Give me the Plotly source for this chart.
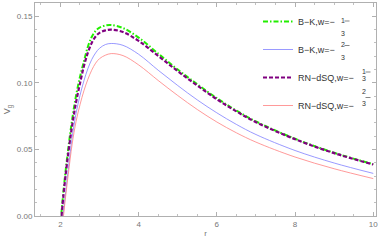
import plotly.graph_objects as go

# ---- data ----
r = [2.0, 2.1, 2.2, 2.3, 2.4, 2.5, 2.6, 2.7, 2.8, 2.9, 3.0, 3.15, 3.3,
     3.6, 4.0, 4.5, 5.0, 5.5, 6.0, 6.5, 7.0, 8.0, 9.0, 10.0]

bk_13 = [-0.0062, 0.025, 0.0505, 0.0725, 0.0905, 0.1045, 0.116, 0.127, 0.1345, 0.139, 0.1415, 0.1431, 0.1434,
         0.1412, 0.1340, 0.1220, 0.1100, 0.0990, 0.0885, 0.0792, 0.0710, 0.0580, 0.0475, 0.0389]
bk_23 = [-0.020, 0.009, 0.035, 0.059, 0.077, 0.0905, 0.1015, 0.1105, 0.1175, 0.1225, 0.1260, 0.1288, 0.1296,
         0.1282, 0.1215, 0.1095, 0.0980, 0.0872, 0.0775, 0.0688, 0.0612, 0.0492, 0.0398, 0.0320]
rn_13 = [-0.009, 0.022, 0.047, 0.068, 0.0855, 0.0995, 0.1125, 0.1225, 0.1300, 0.1348, 0.1376, 0.1394, 0.1400,
         0.1382, 0.1315, 0.1203, 0.1088, 0.0980, 0.0877, 0.0786, 0.0705, 0.0577, 0.0472, 0.0387]
rn_23 = [-0.024, 0.006, 0.031, 0.054, 0.071, 0.0835, 0.094, 0.1025, 0.1095, 0.1148, 0.1182, 0.1208, 0.1220,
         0.1205, 0.1135, 0.1018, 0.0905, 0.0800, 0.0706, 0.0625, 0.0555, 0.0443, 0.0355, 0.0281]

names = ["B\u2212K,w=\u2212", "B\u2212K,w=\u2212", "RN\u2212dSQ,w=\u2212", "RN\u2212dSQ,w=\u2212"]
numerators = ["1", "2", "1", "2"]
denominator = "3"

x_ticks = [2, 4, 6, 8, 10]
y_ticks = [0.00, 0.05, 0.10, 0.15]

# ---- figure ----
W, H = 382, 241
ml, mr, mt, mb = 35, 6, 3, 25
pw, ph = W - ml - mr, H - mt - mb

fig = go.Figure()
styles = [
    dict(color="#22ee00", width=2, dash="5px,2px,1.5px,2px"),
    dict(color="#8080ff", width=0.8),
    dict(color="#800080", width=2.2, dash="4px,2px"),
    dict(color="#ff8080", width=0.8),
]
for i, (ys, nm, st) in enumerate(zip([bk_13, bk_23, rn_13, rn_23], names, styles)):
    fig.add_trace(go.Scatter(x=r, y=ys, mode="lines", name=nm,
                             line=dict(shape="spline", smoothing=1.0, **st),
                             legendgroup=f"g{i}"))

FONT = "Liberation Sans"
axis_common = dict(showline=True, linecolor="#b0b0b0", linewidth=1, mirror="allticks",
                   ticks="inside", ticklen=4, tickcolor="#b0b0b0", showgrid=False,
                   zeroline=False, tickfont=dict(size=8, color="#777777", family=FONT))

fig.update_xaxes(range=[1.35, 10.07], tickvals=x_ticks, ticktext=[str(t) for t in x_ticks],
                 minor=dict(dtick=0.5, tick0=0, ticks="inside", ticklen=2, tickcolor="#c0c0c0"),
                 title=dict(text="r", font=dict(size=8, color="#777777", family=FONT),
                            standoff=2),
                 **axis_common)
fig.update_yaxes(range=[0, 0.16], tickvals=y_ticks, ticktext=[f"{t:.2f}" for t in y_ticks],
                 minor=dict(dtick=0.01, tick0=0, ticks="inside", ticklen=2, tickcolor="#c0c0c0"),
                 title=dict(text="V<sub>g</sub>", font=dict(size=9, color="#777777", family=FONT),
                            standoff=4),
                 **axis_common)

fig.update_layout(
    width=W, height=H, margin=dict(l=ml, r=mr, t=mt, b=mb),
    plot_bgcolor="white", paper_bgcolor="white",
    legend=dict(x=(258 - ml) / pw, y=1 - (7 - mt) / ph, xanchor="left", yanchor="top",
                bgcolor="rgba(0,0,0,0)", font=dict(size=9, color="#333333", family=FONT),
                tracegroupgap=9, itemwidth=30),
)

# stacked fractions next to legend labels
row_y = [20.5, 45, 71.5, 97]
frac_x = [347, 347, 368, 368]
for yy, xx, num in zip(row_y, frac_x, numerators):
    xp = (xx - ml) / pw
    fig.add_annotation(x=xp, y=1 - (yy - 6 - mt) / ph, xref="paper", yref="paper",
                       text=num, showarrow=False, font=dict(size=7, color="#333333", family=FONT))
    fig.add_annotation(x=xp, y=1 - (yy + 7 - mt) / ph, xref="paper", yref="paper",
                       text=denominator, showarrow=False,
                       font=dict(size=7, color="#333333", family=FONT))
    fig.add_shape(type="line", xref="paper", yref="paper",
                  x0=(xx - 2.5 - ml) / pw, x1=(xx + 2.5 - ml) / pw,
                  y0=1 - (yy + 0.5 - mt) / ph, y1=1 - (yy + 0.5 - mt) / ph,
                  line=dict(color="#333333", width=0.6))

fig.write_html("out.html", config={"displayModeBar": False},
               post_script="document.body.style.margin='0px';document.body.style.overflow='hidden';")
